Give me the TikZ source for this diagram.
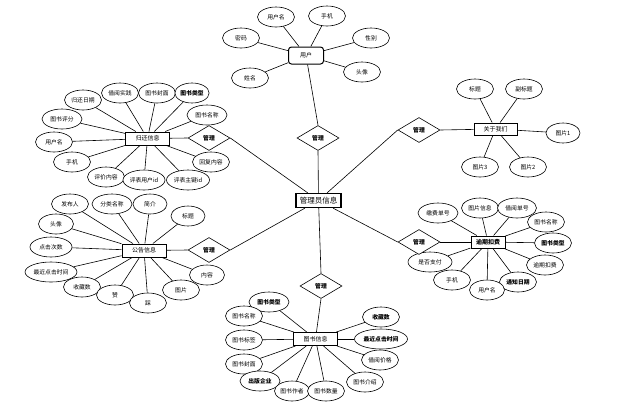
\documentclass[tikz,border=0pt]{standalone}
\usepackage{fontspec}
\newfontfamily\cjk{Noto Sans CJK SC}
\usetikzlibrary{shapes.geometric}
\tikzset{
  attr/.style={draw, fill=white, ellipse, line width=0.6pt, minimum width=37pt, minimum height=20pt, inner sep=0.5pt, font=\cjk\fontsize{5.8}{6.5}\selectfont},
  ent/.style={draw, fill=white, rectangle, line width=1pt, minimum width=44pt, minimum height=13pt, inner sep=1pt, font=\cjk\fontsize{6}{7}\selectfont},
  rel/.style={draw, fill=white, diamond, line width=0.6pt, minimum width=42pt, minimum height=25pt, inner sep=0pt, aspect=1.7, font=\cjk\bfseries\fontsize{5.8}{6.5}\selectfont},
  conn/.style={line width=0.6pt},
  bld/.style={font=\cjk\bfseries\fontsize{5.8}{6.5}\selectfont}
}
\begin{document}
\begin{tikzpicture}[x=1pt,y=-1pt]
\useasboundingbox (0,0) rectangle (618,408);
% center
\node[ent, font=\cjk\fontsize{7.5}{8}\selectfont, line width=1.3pt, minimum width=45pt, minimum height=14pt] (c) at (318.5,200.5) {管理员信息};

% ---- user
\node[ent, rounded corners=3pt, minimum width=35pt, minimum height=17pt] (u) at (306,55.5) {用户};
\node[attr] (u1) at (276,17) {用户名};
\node[attr] (u2) at (327,16) {手机};
\node[attr] (u3) at (241,38) {密码};
\node[attr] (u4) at (371,38) {性别};
\node[attr] (u5) at (250,78) {姓名};
\node[attr] (u6) at (362,72) {头像};
\foreach \a in {u1,u2,u3,u4,u5,u6} \draw[conn] (\a) -- (u);
\node[rel] (du) at (318,138) {管理};
\draw[conn] (u) -- (du.north);
\draw[conn] (du.south) -- (c);

% ---- 归还信息
\node[ent] (g) at (147.5,138.5) {归还信息};
\node[attr] (g1) at (83,100) {归还日期};
\node[attr] (g2) at (120,93) {借阅实践};
\node[attr] (g3) at (157,93) {图书封面};
\node[attr,bld, minimum width=34pt] (g4) at (192,93) {图书类型};
\node[attr, minimum width=40pt] (g5) at (207,115) {图书名称};
\node[attr, minimum width=40pt] (g6) at (62,119) {图书评分};
\node[attr] (g7) at (54,142) {用户名};
\node[attr] (g8) at (72,162) {手机};
\node[attr] (g9) at (211,162) {回复内容};
\node[attr] (g10) at (106,177) {评价内容};
\node[attr, minimum width=42pt] (g11) at (144,180) {评表用户id};
\node[attr, minimum width=43pt] (g12) at (188,180) {评表主键id};
\foreach \a in {g1,g2,g3,g4,g5,g6,g7,g8,g9,g10,g11,g12} \draw[conn] (\a) -- (g);
\node[rel] (dg) at (209,138) {管理};
\draw[conn] (g) -- (dg.west);
\draw[conn] (dg.east) -- (c);

% ---- 关于我们
\node[ent, minimum width=43pt, minimum height=12pt] (a) at (495.5,129) {关于我们};
\node[attr] (a1) at (475,89) {标题};
\node[attr] (a2) at (524,89) {副标题};
\node[attr, minimum width=34pt] (a3) at (563,133) {图片1};
\node[attr] (a4) at (480,167) {图片3};
\node[attr] (a5) at (528,167) {图片2};
\foreach \x in {a1,a2,a3,a4,a5} \draw[conn] (\x) -- (a);
\node[rel] (da) at (419,130) {管理};
\draw[conn] (da.east) -- (a);
\draw[conn] (da.west) -- (c);

% ---- 公告信息
\node[ent] (n) at (144,250.5) {公告信息};
\node[attr] (n1) at (70,204) {发布人};
\node[attr, minimum width=40pt] (n2) at (112,204) {分类名称};
\node[attr, minimum width=34pt] (n3) at (150,204) {简介};
\node[attr, minimum width=34pt] (n4) at (188,216) {标题};
\node[attr, minimum width=35pt] (n5) at (56,224) {头像};
\node[attr, minimum width=42pt] (n6) at (51,247) {点击次数};
\node[attr, minimum width=52pt] (n7) at (51,272) {最近点击时间};
\node[attr] (n8) at (82,287) {收藏数};
\node[attr] (n9) at (115,295) {赞};
\node[attr] (n10) at (148,303) {踩};
\node[attr] (n11) at (181,290) {图片};
\node[attr, minimum width=35pt] (n12) at (207,275) {内容};
\foreach \x in {n1,n2,n3,n4,n5,n6,n7,n8,n9,n10,n11,n12} \draw[conn] (\x) -- (n);
\node[rel] (dn) at (209,250) {管理};
\draw[conn] (n) -- (dn.west);
\draw[conn] (dn.east) -- (c);

% ---- 逾期扣费
\node[ent, minimum width=34pt, minimum height=12pt, font=\cjk\bfseries\fontsize{6}{7}\selectfont] (o) at (488,242) {逾期扣费};
\node[attr, minimum width=40pt] (o1) at (438,213) {缴费单号};
\node[attr] (o2) at (480,208) {图片信息};
\node[attr, minimum width=39pt] (o3) at (517,208) {借阅单号};
\node[attr] (o4) at (546,222) {图书名称};
\node[attr,bld] (o5) at (553,243) {图书类型};
\node[attr] (o6) at (545,265) {逾期扣费};
\node[attr,bld] (o7) at (518,282) {通知日期};
\node[attr, minimum width=35pt] (o8) at (487,290) {用户名};
\node[attr] (o9) at (452,280) {手机};
\node[attr, minimum width=44pt] (o10) at (430,262) {是否支付};
\foreach \x in {o1,o2,o3,o4,o5,o6,o7,o8,o9,o10} \draw[conn] (\x) -- (o);
\node[rel] (do) at (419,242) {管理};
\draw[conn] (do.east) -- (o);
\draw[conn] (do.west) -- (c);

% ---- 图书信息
\node[ent] (b) at (315.5,339) {图书信息};
\node[attr,bld, minimum width=40pt] (b1) at (269,302) {图书类型};
\node[attr] (b2) at (244,316) {图书名称};
\node[attr] (b3) at (244,340) {图书标签};
\node[attr] (b4) at (244,364) {图书封面};
\node[attr,bld, minimum width=40pt] (b5) at (260,381) {出版企业};
\node[attr, minimum width=35pt] (b6) at (292,391) {图书作者};
\node[attr] (b7) at (326,391) {图书数量};
\node[attr] (b8) at (365,382) {图书介绍};
\node[attr] (b9) at (380,360) {借阅价格};
\node[attr,bld, minimum width=53pt] (b10) at (381,339) {最近点击时间};
\node[attr,bld] (b11) at (381,317) {收藏数};
\foreach \x in {b1,b2,b3,b4,b5,b6,b7,b8,b9,b10,b11} \draw[conn] (\x) -- (b);
\node[rel] (db) at (321,286) {管理};
\draw[conn] (db.south) -- (b);
\draw[conn] (db.north) -- (c);
\end{tikzpicture}
\end{document}
